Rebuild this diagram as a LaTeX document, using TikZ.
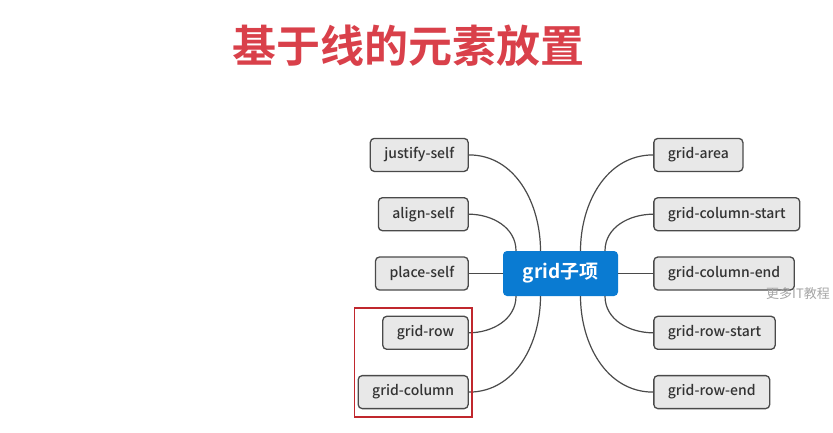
\documentclass[tikz,border=0pt]{standalone}
\usepackage{fontspec}
\setmainfont{Noto Sans CJK SC}[BoldFont={Noto Sans CJK SC Bold}]
\newfontfamily\itemfont{Noto Sans CJK SC Medium}
\usetikzlibrary{positioning,fit}
\definecolor{boxgray}{HTML}{E8E8E8}
\definecolor{linegray}{HTML}{4A4A4A}
\definecolor{topicblue}{HTML}{0A7BD2}
\definecolor{titlered}{HTML}{D9404A}
\definecolor{markred}{HTML}{C0272D}

\begin{document}
\begin{tikzpicture}[x=1pt,y=-1pt,node distance=25pt,
  item/.style={draw=linegray,line width=1.3pt,fill=boxgray,rounded corners=4pt,
    minimum height=33pt,inner xsep=14pt,text=black!80,font=\itemfont\fontsize{14}{16}\selectfont},
  topic/.style={fill=topicblue,rounded corners=4pt,minimum height=45pt,minimum width=115pt,
    text=white,font=\bfseries\fontsize{19}{22}\selectfont},
  link/.style={draw=linegray,line width=1.2pt}]
  \useasboundingbox[fill=white] (0,0) rectangle (833,432);
  \node[text=titlered,font=\bfseries\fontsize{44}{50}\selectfont] (title) at (408,46) {基于线的元素放置};
  % central topic
  \node[topic] (c) at (560.5,273.5) {grid子项};
  % left branch
  \node[item,left=34pt of c] (ps) {place-self};
  \node[item,above=of ps.north east,anchor=south east] (as) {align-self};
  \node[item,above=of as.north east,anchor=south east] (js) {justify-self};
  \node[item,below=of ps.south east,anchor=north east] (gr) {grid-row};
  \node[item,below=of gr.south east,anchor=north east] (gc) {grid-column};
  % right branch
  \node[item,right=35pt of c] (gce) {grid-column-end};
  \node[item,above=of gce.north west,anchor=south west] (gcs) {grid-column-start};
  \node[item,above=of gcs.north west,anchor=south west] (ga) {grid-area};
  \node[item,below=of gce.south west,anchor=north west] (grs) {grid-row-start};
  \node[item,below=of grs.south west,anchor=north west] (gre) {grid-row-end};
  \path[link]
  (js.east) edge [out=0,in=90] ([xshift=-20pt]c.north)
  (as.east) edge [out=0,in=90] ([xshift=-44.5pt]c.north)
  (ps.east) edge (c.west)
  (gr.east) edge [out=0,in=-90] ([xshift=-44.5pt]c.south)
  (gc.east) edge [out=0,in=-90] ([xshift=-20pt]c.south)
  (ga.west) edge [out=180,in=90] ([xshift=20pt]c.north)
  (gcs.west) edge [out=180,in=90] ([xshift=44.5pt]c.north)
  (gce.west) edge (c.east)
  (grs.west) edge [out=180,in=-90] ([xshift=44.5pt]c.south)
  (gre.west) edge [out=180,in=-90] ([xshift=20pt]c.south)
  ;
  \node[draw=markred,line width=1.8pt,fit=(gr)(gc),inner xsep=3pt,inner ysep=8pt] (mark) {};
  \node[text=black!35,font=\fontsize{13}{15}\selectfont] (wm) at (798,294) {更多IT教程};
\end{tikzpicture}
\end{document}
